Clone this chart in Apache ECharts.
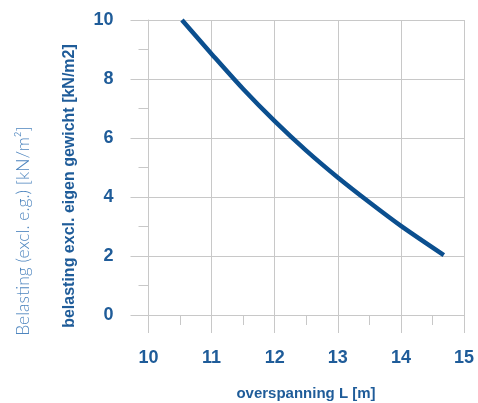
<!DOCTYPE html>
<html>
<head>
<meta charset="utf-8">
<script src="https://cdn.jsdelivr.net/npm/echarts@6/dist/echarts.min.js"></script>
<style>
html,body{margin:0;padding:0;background:#fff;}
#c{width:478px;height:403px;}
</style>
</head>
<body>
<div id="c"></div>
<script>
// Data
const spanL = [10.53, 11, 11.5, 12, 12.5, 13, 13.5, 14, 14.68];
const load = [10, 8.85, 7.66, 6.57, 5.57, 4.66, 3.82, 3.02, 2.03];
const xAxisName = 'overspanning L [m]';
const yAxisName = 'belasting excl. eigen gewicht [kN/m2]';
const leftNote = 'Belasting (excl. e.g.) [kN/m²]';

const blue = '#1f5c99';
const gridGray = '#c8c8c8';
const font = '"Liberation Sans", Arial, sans-serif';

const chart = echarts.init(document.getElementById('c'), null, {renderer: 'canvas'});
chart.setOption({
  animation: false,
  backgroundColor: '#fff',
  grid: {left: 148.5, right: 14, top: 20, bottom: 88, containLabel: false},
  xAxis: {
    type: 'value', min: 10, max: 15, interval: 1,
    axisLine: {show: true, lineStyle: {color: gridGray, width: 1}},
    axisTick: {show: true, length: 18, lineStyle: {color: gridGray}},
    minorTick: {show: true, splitNumber: 2, length: 10, lineStyle: {color: gridGray}},
    splitLine: {show: true, lineStyle: {color: gridGray, width: 1}},
    axisLabel: {margin: 34, color: blue, fontWeight: 'bold', fontSize: 18, fontFamily: font}
  },
  yAxis: {
    type: 'value', min: 0, max: 10, interval: 2,
    axisLine: {show: true, lineStyle: {color: gridGray, width: 1}},
    axisTick: {show: true, length: 18, lineStyle: {color: gridGray}},
    minorTick: {show: true, splitNumber: 2, length: 10, lineStyle: {color: gridGray}},
    splitLine: {show: true, lineStyle: {color: gridGray, width: 1}},
    axisLabel: {margin: 35, color: blue, fontWeight: 'bold', fontSize: 18, fontFamily: font}
  },
  graphic: [
    {type: 'text', x: 306, y: 394, style: {text: xAxisName, fill: blue, font: 'bold 15px ' + font, textAlign: 'center', textVerticalAlign: 'middle'}},
    {type: 'text', x: 70, y: 186, rotation: Math.PI / 2, style: {text: yAxisName, fill: blue, font: 'bold 16px ' + font, textAlign: 'center', textVerticalAlign: 'middle'}},
    {type: 'text', x: 23, y: 231, rotation: Math.PI / 2, style: {text: leftNote, fill: '#4f86bf', font: '300 17.5px Lato, "Open Sans", sans-serif', textAlign: 'center', textVerticalAlign: 'middle'}}
  ],
  series: [{
    type: 'line',
    data: spanL.map((x, i) => [x, load[i]]),
    smooth: 0.3,
    symbol: 'none',
    lineStyle: {color: '#0b4f8f', width: 4.5, cap: 'butt'}
  }]
});
</script>
</body>
</html>
